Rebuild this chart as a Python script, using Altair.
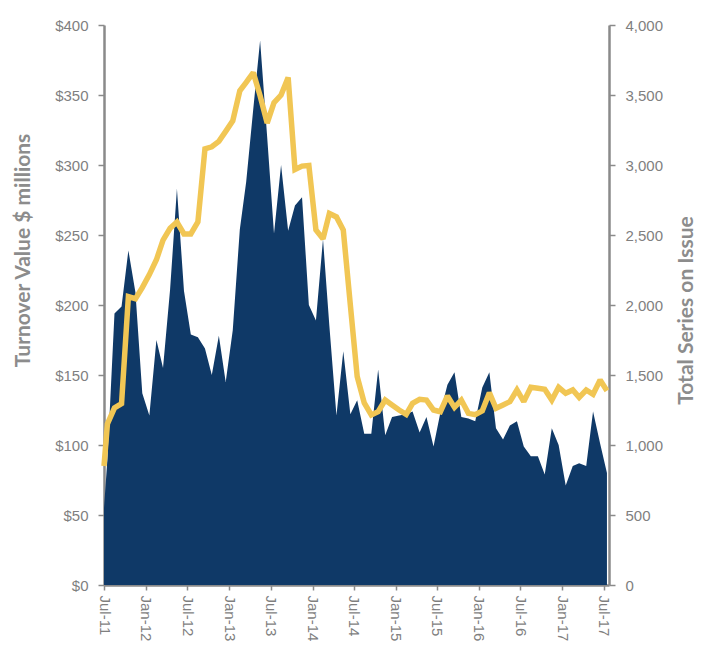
import altair as alt
import pandas as pd

# ---- data ----
# first vertex sits on the Jul-11 axis start, the rest are mid-month observations Jul-11 .. Jul-17
start_date = "2011-07-01T00:00:00"
first_year, first_month, n_months = 2011, 7, 73

turnover = [55, 90, 194, 199, 239, 209, 137, 121, 175, 155, 211, 283, 210, 179, 177, 169,
            150, 178, 145, 182, 254, 288, 340, 389, 320, 251, 300, 253, 271, 277, 200, 189,
            247, 185, 121, 167, 122, 132, 108, 108, 154, 107, 120, 121, 122, 124, 109, 120,
            99, 123, 143, 152, 120, 119, 117, 141, 152, 112, 104, 114, 117, 99, 92, 92,
            79, 112, 100, 71, 85, 87, 85, 124, 101, 80]

series_on_issue = [850, 1150, 1265, 1295, 2060, 2045, 2124, 2217, 2323, 2463, 2548, 2593,
                   2508, 2508, 2593, 3116, 3130, 3169, 3240, 3315, 3530, 3590, 3660, 3495,
                   3300, 3445, 3500, 3625, 2968, 2992, 2997, 2536, 2472, 2654, 2629, 2535,
                   2000, 1489, 1300, 1215, 1238, 1321, 1286, 1250, 1219, 1298, 1326, 1321,
                   1250, 1238, 1350, 1269, 1321, 1226, 1217, 1244, 1374, 1262, 1286, 1310,
                   1393, 1310, 1412, 1405, 1398, 1321, 1412, 1369, 1393, 1340, 1393, 1362,
                   1464, 1388]

tick_years = [2011, 2012, 2012, 2013, 2013, 2014, 2014, 2015, 2015, 2016, 2016, 2017, 2017]
tick_months = [7, 1, 7, 1, 7, 1, 7, 1, 7, 1, 7, 1, 7]

dates = [start_date]
for k in range(n_months):
    m = first_month - 1 + k
    y = first_year + m // 12
    mm = m % 12 + 1
    dates.append(f"{y:04d}-{mm:02d}-16T00:00:00")

df = pd.DataFrame({"date": dates, "turnover": turnover, "series": series_on_issue})

NAVY = "#0f3967"
GOLD = "#f1c654"
GREY = "#7f7f7f"
AXIS = "#8a8a8a"

x_enc = alt.X(
    "date:T",
    scale=alt.Scale(domain=[alt.DateTime(year=2011, month=7, date=1),
                            alt.DateTime(year=2017, month=7, date=25)]),
    axis=alt.Axis(
        values=[alt.DateTime(year=y, month=m, date=1) for y, m in zip(tick_years, tick_months)],
        format="%b-%y", labelAngle=90, labelAlign="left", labelBaseline="middle",
        labelFont="Liberation Sans", labelFontSize=15, labelColor=GREY,
        labelPadding=5, labelOverlap=False, labelBound=False, labelFlush=False,
        domainColor=AXIS, domainWidth=2.5, tickColor=AXIS, tickWidth=1.5, tickSize=5,
        grid=False, title=None),
)

area = alt.Chart(df).mark_area(color=NAVY, opacity=1, interpolate="linear").encode(
    x=x_enc,
    y=alt.Y("turnover:Q",
            scale=alt.Scale(domain=[0, 400], nice=False),
            axis=alt.Axis(values=[0, 50, 100, 150, 200, 250, 300, 350, 400],
                          labelExpr="'$' + datum.value",
                          title="Turnover Value $ millions",
                          titleFont="Lato", titleFontSize=21, titleFontWeight="bold",
                          titleColor="#8c8c8c", titleX=-81, titleY=225,
                          titleAngle=-90, titleAlign="center", titleBaseline="middle",
                          labelFont="Liberation Sans", labelFontSize=15, labelColor=GREY,
                          labelPadding=10, domainColor=AXIS, domainWidth=2.5,
                          tickColor=AXIS, tickWidth=1.5, tickSize=6, grid=False)),
)

line = alt.Chart(df).mark_line(color=GOLD, strokeWidth=5.5, strokeJoin="miter",
                               strokeMiterLimit=2, interpolate="linear").encode(
    x=x_enc,
    y=alt.Y("series:Q",
            scale=alt.Scale(domain=[0, 4000], nice=False),
            axis=alt.Axis(orient="right", values=[0, 500, 1000, 1500, 2000, 2500, 3000, 3500, 4000],
                          format=",d",
                          title="Total Series on Issue",
                          titleFont="Lato", titleFontSize=21, titleFontWeight="bold",
                          titleColor="#8c8c8c", titleX=77, titleY=285,
                          titleAngle=-90, titleAlign="center", titleBaseline="middle",
                          labelFont="Liberation Sans", labelFontSize=15, labelColor=GREY,
                          labelPadding=10, domainColor=AXIS, domainWidth=2.5,
                          tickColor=AXIS, tickWidth=1.5, tickSize=6, grid=False)),
)

chart = alt.layer(area, line).resolve_scale(y="independent").properties(
    width=505, height=560,
    padding={"left": 96, "top": 17, "right": 88, "bottom": 65},
    autosize=alt.AutoSizeParams(type="none"),
).configure_view(stroke=None)

chart.save("out.html", embed_options={"renderer": "svg", "actions": False})
